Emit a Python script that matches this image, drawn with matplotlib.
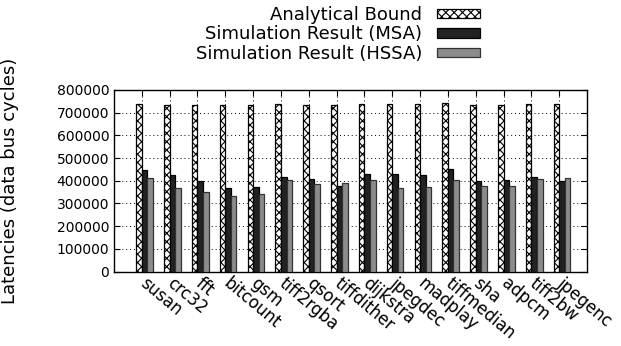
import numpy as np
import matplotlib.pyplot as plt

benchmarks = ['susan', 'crc32', 'fft', 'bitcount', 'gsm', 'tiff2rgba', 'qsort', 'tiffdither',
              'dijkstra', 'jpegdec', 'madplay', 'tiffmedian', 'sha', 'adpcm', 'tiff2bw', 'jpegenc']
analytical = [738000, 733000, 734000, 733000, 733000, 738000, 734000, 734000,
              738000, 738000, 738000, 743000, 734000, 735000, 738000, 738000]
msa = [447000, 424000, 400000, 368000, 374000, 416000, 406000, 378000,
       431000, 428000, 424000, 452000, 399000, 405000, 416000, 399000]
hssa = [412000, 368000, 350000, 333000, 342000, 403000, 387000, 389000,
        403000, 368000, 374000, 403000, 375000, 377000, 406000, 411000]

plt.rcParams['hatch.linewidth'] = 0.8
fig = plt.figure(figsize=(6.21, 3.46), dpi=100)
ax = fig.add_axes([0.1836, 0.2153, 0.7617, 0.5247])

x = np.arange(len(benchmarks))
w = 0.2
b1 = ax.bar(x - w, analytical, w, align='edge', color='white', edgecolor='black',
            hatch='xxxx', linewidth=0.9, label='Analytical Bound', zorder=3)
b2 = ax.bar(x, msa, w, align='edge', color='#222222', edgecolor='black',
            linewidth=0.9, label='Simulation Result (MSA)', zorder=3)
b3 = ax.bar(x + w, hssa, w, align='edge', color='#8c8c8c', edgecolor='#333333',
            linewidth=0.9, label='Simulation Result (HSSA)', zorder=3)

ax.set_xlim(-1, 16)
ax.set_ylim(0, 800000)
ax.set_yticks(np.arange(0, 800001, 100000))
ax.set_xticks(x)
ax.set_xticklabels(benchmarks, rotation=-40, ha='left', va='center',
                   rotation_mode='anchor', fontsize=12)
ax.tick_params(axis='x', pad=7)
ax.tick_params(axis='y', labelsize=10)
ax.tick_params(direction='in', top=True, right=True, length=4)
ax.grid(True, linestyle=(0, (1, 3)), color='black', linewidth=0.7, zorder=0)
for s in ax.spines.values():
    s.set_linewidth(1.0)

ax.set_ylabel('Latencies (data bus cycles)', fontsize=13)
ax.yaxis.set_label_coords(-0.2, 0.5)

fig.legend(handles=[b1, b2, b3], loc='upper right', bbox_to_anchor=(489 / 621, 1 + 3 / 346),
           frameon=False, markerfirst=False, fontsize=13, borderpad=0,
           labelspacing=0.08, handlelength=2.4, handleheight=0.45, handletextpad=0.8)

fig.savefig('out.png', dpi=100)
